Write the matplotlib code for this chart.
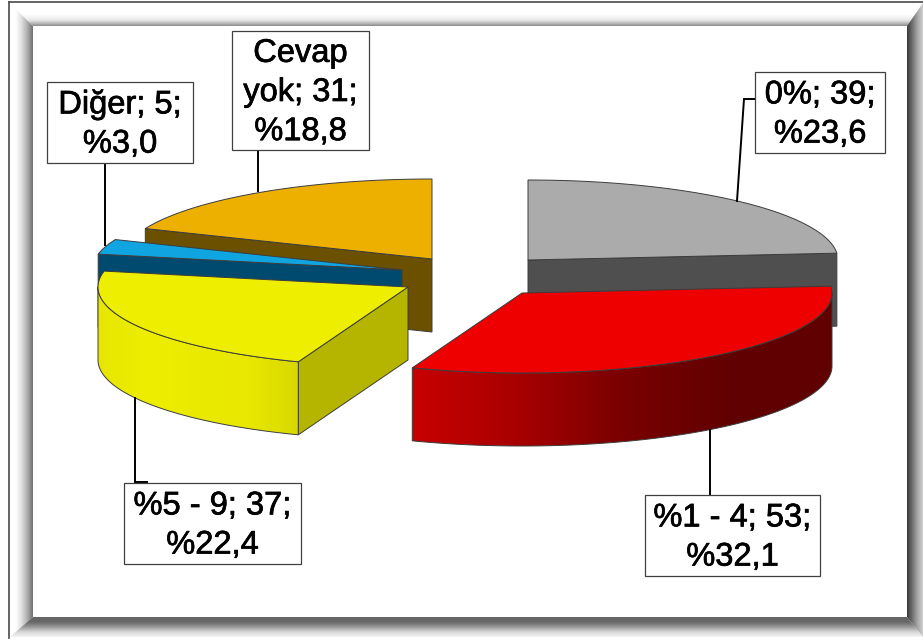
import numpy as np
import matplotlib
matplotlib.use('Agg')
import matplotlib.pyplot as plt
import matplotlib.patheffects as pe
from matplotlib.colors import LinearSegmentedColormap
from matplotlib.patches import Polygon, Rectangle

categories = ['0%', '%1 - 4', '%5 - 9', 'Diğer', 'Cevap yok']
counts = [39, 53, 37, 5, 31]
percents = [23.6, 32.1, 22.4, 3.0, 18.8]
label_templates = ['{c}; {n};\n%{p}', '{c}; {n};\n%{p}', '{c}; {n};\n%{p}', '{c}; {n};\n%{p}', 'Cevap\nyok; {n};\n%{p}']

top_colors = ['#ababab', '#ee0000', '#eeee00', '#10a5e0', '#edb000']
cut_colors = ['#4f4f4f', '#8a0000', '#b5b500', '#004a70', '#6b5000']
rim_stops = [['#4f4f4f', '#4f4f4f'],
             ['#c80000', '#a80000', '#7a0000', '#620000', '#600000'],
             ['#e6e600', '#eeee00', '#eaea00', '#e8e800', '#d8d800'],
             ['#004a70', '#004a70'],
             ['#6b5000', '#6b5000']]

# slice apex after explosion, picture pixels
apex = [(528, 260), (522, 293), (408, 287), (402, 270), (432, 259)]
draw_order = [4, 0, 3, 2, 1]
RX, RY, DEPTH = 310, 80, 73
OUTLINE = '#3c3c3c'

# label boxes: left, top, right, bottom
boxes = [(755, 72, 885, 153), (645, 495, 820, 576), (124, 483, 301, 564),
         (47, 82, 193, 163), (232, 31, 369, 150)]
leaders = [[(755, 99), (744, 99), (737, 201)],
           [(710, 430), (710, 495)],
           [(135, 398), (135, 482), (147, 482)],
           [(105, 163), (105, 245)],
           [(258, 150), (258, 191)]]


def rim_point(c, deg):
    a = np.deg2rad(deg)
    return c[0] + RX * np.sin(a), c[1] - RY * np.cos(a)


def arc(c, a0, a1):
    aa = np.linspace(a0, a1, 120)
    return np.column_stack(rim_point(c, aa))


def grad_fill(ax, verts, colors, horizontal, z, extent=None):
    # gradient image clipped to a polygon
    verts = np.asarray(verts)
    if extent is None:
        extent = (verts[:, 0].min(), verts[:, 0].max(), verts[:, 1].max(), verts[:, 1].min())
    cmap = LinearSegmentedColormap.from_list('g', colors)
    ramp = np.linspace(0, 1, 256)
    img = ramp.reshape(1, -1) if horizontal else ramp.reshape(-1, 1)
    im = ax.imshow(img, cmap=cmap, extent=extent, aspect='auto', zorder=z, interpolation='bilinear')
    clip = Polygon(verts, closed=True, transform=ax.transData)
    im.set_clip_path(clip)


def draw_frame(ax):
    xo0, yo0, xo1, yo1 = 10, 3, 923, 637
    xi0, yi0, xi1, yi1 = 33, 26, 907, 617
    grad_fill(ax, [(xo0, yo0), (xi0, yi0), (xi0, yi1), (xo0, yo1)],
              ['#ffffff', '#ffffff', '#e0e0e0', '#b0b0b0', '#707070'], True, 1)
    grad_fill(ax, [(xo0, yo0), (xo1, yo0), (xi1, yi0), (xi0, yi0)],
              ['#ffffff', '#ffffff', '#ffffff', '#e8e8e8', '#8c8c8c'], False, 1)
    grad_fill(ax, [(xi1, yi0), (xo1, yo0), (xo1, yo1), (xi1, yi1)],
              ['#383838', '#707070', '#a8a8a8', '#d0d0d0'], True, 1)
    grad_fill(ax, [(xi0, yi1), (xi1, yi1), (xo1, yo1), (xo0, yo1)],
              ['#666666', '#686868', '#9a9a9a', '#d8d8d8', '#f4f4f4'], False, 1)
    ax.plot([9, 9], [2, 638], color='#4a4a4a', lw=1.2, zorder=2)
    ax.plot([9, 923], [2, 2], color='#4a4a4a', lw=1.2, zorder=2)


def draw_slice(ax, i, a0, a1, z):
    c = apex[i]
    low = (c[0], c[1] + DEPTH)

    def cut_face(deg):
        p = rim_point(c, deg)
        face = [c, p, (p[0], p[1] + DEPTH), low]
        ax.add_patch(Polygon(face, closed=True, fc=cut_colors[i], ec=OUTLINE, lw=0.7, zorder=z))

    if 180 < a0 < 360:
        cut_face(a0)
    if 0 < a1 < 180:
        cut_face(a1)

    r0, r1 = max(a0, 90), min(a1, 270)
    if r0 < r1:
        upper = arc(c, r0, r1)
        lower = upper + [0, DEPTH]
        rim = np.vstack([upper, lower[::-1]])
        grad_fill(ax, rim, rim_stops[i], True, z + 0.1)
        ax.add_patch(Polygon(rim, closed=True, fc='none', ec=OUTLINE, lw=0.7, zorder=z + 0.2))

    top = np.vstack([[c], arc(c, a0, a1)])
    ax.add_patch(Polygon(top, closed=True, fc=top_colors[i], ec=OUTLINE, lw=0.7, zorder=z + 0.3))


fig = plt.figure(figsize=(9.23, 6.40), dpi=100)
ax = fig.add_axes([0, 0, 1, 1])

draw_frame(ax)

edges = np.concatenate([[0], np.cumsum(counts)]) / np.sum(counts) * 360
for z, i in enumerate(draw_order):
    draw_slice(ax, i, edges[i], edges[i + 1], 5 + z)

for pts in leaders:
    xs, ys = zip(*pts)
    ax.plot(xs, ys, color='black', lw=1.4, zorder=20, solid_joinstyle='miter')

for i, cat in enumerate(categories):
    x0, y0, x1, y1 = boxes[i]
    ax.add_patch(Rectangle((x0, y0), x1 - x0, y1 - y0, fc='white', ec='#404040', lw=0.9, zorder=21))
    txt = label_templates[i].format(c=cat, n=counts[i], p=f'{percents[i]:.1f}'.replace('.', ','))
    t = ax.text((x0 + x1) / 2, (y0 + y1) / 2 + 2, txt, ha='center', va='center', fontsize=23.5,
                family='Liberation Sans', linespacing=1.34, color='black', zorder=22)
    t.set_path_effects([pe.withStroke(linewidth=0.5, foreground='black')])

ax.set_xlim(0, 923)
ax.set_ylim(640, 0)
ax.axis('off')

fig.savefig('out.png', dpi=100)
